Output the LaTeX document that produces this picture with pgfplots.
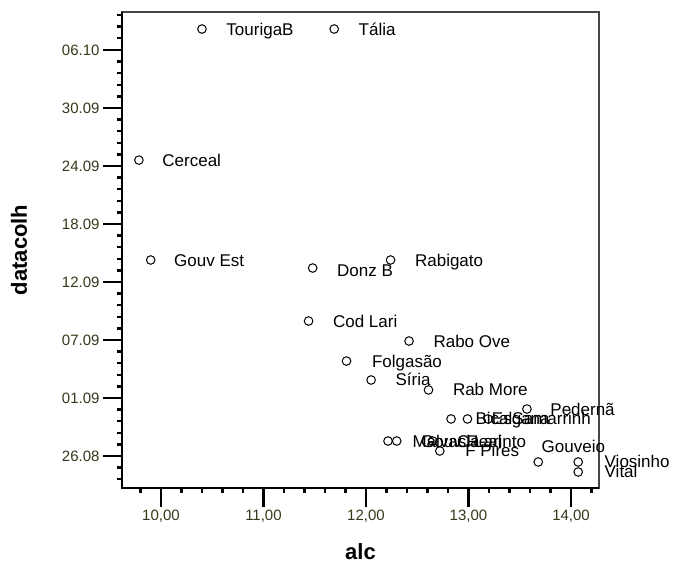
\documentclass[border=0pt]{standalone}
\usepackage{fontspec}
\setmainfont{Liberation Sans}
\usepackage{pgfplots}
\usepackage{pgfplotstable}
\pgfplotsset{compat=1.18}
\definecolor{tickcol}{RGB}{55,55,25}
\definecolor{framecol}{RGB}{70,70,70}

\pgfplotstableread[col sep=comma,row sep=\\]{
x,y,label,dx,dy\\
10.40,44.16,TourigaB,24,0\\
11.69,44.16,Tália,24,0\\
9.785,30.60,Cerceal,23,0\\
9.90,20.27,Gouv Est,23,0\\
11.48,19.44,Donz B,24,-2\\
12.24,20.27,Rabigato,24,0\\
11.44,13.96,Cod Lari,24,0\\
12.42,11.89,Rabo Ove,24,0\\
11.81,9.82,Folgasão,25,0\\
12.05,7.86,Síria,24,0\\
12.61,6.83,Rab More,24,0\\
13.57,4.86,Pedernã,23,0\\
12.83,3.83,Bical,24,0\\
12.99,3.83,Esgana,24,0\\
13.19,3.83,Samarrinh,24,0\\
12.215,1.55,Malvasia,24,0\\
12.30,1.55,Gouv Real,24,0\\
12.65,1.55,C Larinto,24,0\\
12.72,0.52,F Pires,25,0\\
13.68,-0.62,Gouveio,3,15\\
14.07,-0.62,Viosinho,26,0\\
14.07,-1.65,Vital,26,0\\
}\wines

\begin{document}
\begin{tikzpicture}
\useasboundingbox (-122bp,-75bp) rectangle (551bp,488bp);
\begin{axis}[
  at={(0,0)}, anchor=south west,
  width=477bp, height=476bp, scale only axis,
  xmin=9.62, xmax=14.273, ymin=-3.31, ymax=45.92,
  xtick={10,11,12,13,14},
  xticklabels={{10,00},{11,00},{12,00},{13,00},{14,00}},
  minor xtick={9.8,10,...,14.2},
  ytick={0,6,...,42},
  yticklabels={26.08,01.09,07.09,12.09,18.09,24.09,30.09,06.10},
  minor ytick={-2.4,-1.2,...,45.6},
  tick align=outside, xtick pos=bottom, ytick pos=left,
  major tick length=19bp, minor tick length=5bp,
  major tick style={black, line width=2.6bp},
  minor tick style={black, line width=2.4bp},
  tick label style={font=\fontsize{15bp}{17bp}\selectfont, text=tickcol},
  /pgf/number format/assume math mode=true,
  axis line style={framecol, line width=1.2bp},
  xlabel={alc}, ylabel={datacolh},
  label style={font=\bfseries\fontsize{22bp}{24bp}\selectfont},
  xlabel style={at={(axis description cs:0.5,-0.1345)}, anchor=center},
  ylabel style={at={(axis description cs:-0.216,0.5)}, anchor=center},
  clip=false,
  after end axis/.code={
    \draw[black, line width=2bp] (rel axis cs:0,1) -- (rel axis cs:0,0) -- (rel axis cs:1,0);
  },
]
\addplot[only marks, mark=o, mark size=4.3bp, mark options={line width=1bp, black},
  point meta=explicit symbolic,
  visualization depends on={\thisrow{dx}\as\dx},
  visualization depends on={\thisrow{dy}\as\dy},
  nodes near coords,
  every node near coord/.append style={anchor=base west, inner sep=0pt, text=black,
    font=\fontsize{17bp}{20bp}\selectfont, xshift=\dx*1bp, yshift=\dy*1bp-6bp}]
  table[x=x,y=y,meta=label]{\wines};
\end{axis}
\end{tikzpicture}
\end{document}
